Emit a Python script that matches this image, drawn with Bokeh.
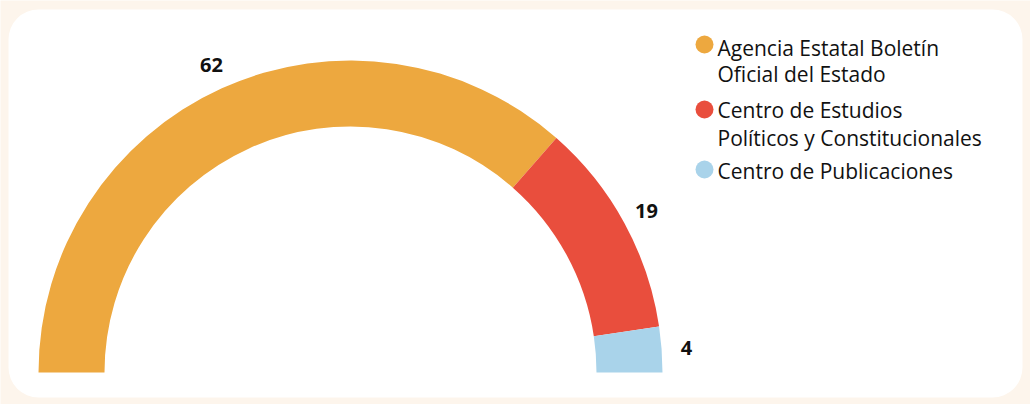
import math
from bokeh.plotting import figure
from bokeh.models import ColumnDataSource, Range1d, BoxAnnotation
from bokeh.core.properties import value
from bokeh.embed import file_html
from bokeh.resources import INLINE

categories = ["Agencia Estatal Boletín Oficial del Estado",
              "Centro de Estudios Políticos y Constitucionales",
              "Centro de Publicaciones"]
legend_lines = [["Agencia Estatal Boletín", "Oficial del Estado"],
                ["Centro de Estudios", "Políticos y Constitucionales"],
                ["Centro de Publicaciones"]]
values = [62, 19, 4]
colors = ["#EDA83F", "#E94E3D", "#A9D3EA"]

CREAM = "#FDF5EC"
W, H = 1030, 404
CX, CY = 350, 32
R_OUT, R_IN, R_LAB = 312, 246, 337

total = float(sum(values))
starts, ends, lx, ly = [], [], [], []
cum = 0.0
for v in values:
    s = math.pi - cum / total * math.pi
    cum += v
    e = math.pi - cum / total * math.pi
    starts.append(s)
    ends.append(e)
    m = (s + e) / 2
    lx.append(CX + R_LAB * math.cos(m))
    ly.append(CY + R_LAB * math.sin(m))

src = ColumnDataSource(dict(start=starts, end=ends, color=colors,
                            lx=lx, ly=ly, lab=[str(v) for v in values]))

p = figure(width=W, height=H, output_backend="svg", toolbar_location=None,
           x_range=Range1d(0, W), y_range=Range1d(0, H), min_border=0,
           background_fill_color=CREAM, border_fill_color=CREAM,
           outline_line_color=None)
p.axis.visible = False
p.grid.visible = False

p.add_layout(BoxAnnotation(left=8, right=1022, bottom=7, top=395,
                           fill_color="white", fill_alpha=1.0, line_color=None,
                           border_radius=30, level="underlay"))

p.annular_wedge(x=CX, y=CY, inner_radius=R_IN, outer_radius=R_OUT,
                start_angle="start", end_angle="end", direction="clock",
                fill_color="color", line_color=None, source=src)

p.text(x="lx", y="ly", text="lab", source=src, text_align="center",
       text_baseline="middle", text_font=value("Open Sans"), text_font_size="20px",
       text_font_style="bold", text_color="#111111")

# legend
lg_x_dot, lg_x_txt = 704, 717
dot_y = [360, 295, 235]
line_ys = [[357, 331], [295, 267], [234]]
p.scatter(x=[lg_x_dot] * 3, y=dot_y, size=18, fill_color=colors, line_color=None)
tx, ty, tt = [], [], []
for lines, ys in zip(legend_lines, line_ys):
    for t, y in zip(lines, ys):
        tx.append(lg_x_txt); ty.append(y); tt.append(t)
p.text(x=tx, y=ty, text=tt, text_align="left", text_baseline="middle",
       text_font=value("Open Sans"), text_font_size="21px", text_color="#111111")

html = file_html(p, INLINE)
html = html.replace("<body>", '<body style="background-color:%s;">' % CREAM, 1)
open("out.html", "w").write(html)
